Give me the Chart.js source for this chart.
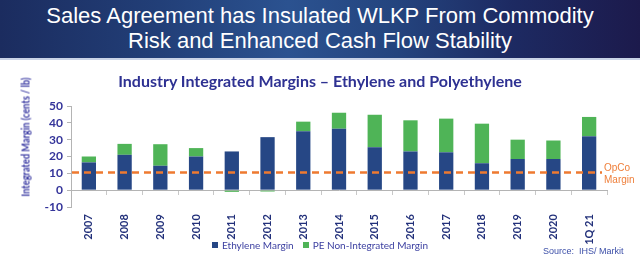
<!DOCTYPE html>
<html>
<head>
<meta charset="utf-8">
<script src="https://cdn.jsdelivr.net/npm/chart.js@4"></script>
<style>
  body { margin: 0; width: 640px; height: 265px; background: #fff; overflow: hidden; position: relative; }
  #header {
    position: absolute; left: 0; top: 0; width: 640px; height: 58px;
    background: linear-gradient(90deg, #1b2c5f 0%, #223f78 25%, #2b5290 45%, #24447e 62%, #1d2a62 80%, #1c1a4c 100%);
    border-bottom: 2px solid #c9d3e6;
    color: #fff; font-family: "Liberation Sans", Arial, sans-serif; font-size: 22px;
    text-align: center; line-height: 25px;
  }
  #header div { white-space: nowrap; }
  #chart { position: absolute; left: 0; top: 0; }
  .txt { position: absolute; white-space: nowrap; }
  #ctitle { left: 0; width: 640px; top: 71px; text-align: center; font-family: Lato, sans-serif; font-weight: bold; font-size: 16px; color: #2e3192; }
  #ytitle { left: 25px; top: 137px; transform: translate(-50%, -50%) rotate(-90deg) scale(0.84, 1); font-family: Lato, sans-serif; font-weight: bold; font-size: 11px; color: #3535a0; }
  #legend { left: 212px; top: 239px; font-family: Lato, sans-serif; font-size: 10px; color: #3b3fa0; }
  #legend span.sw { display: inline-block; width: 6px; height: 6px; margin-right: 4px; vertical-align: 1px; }
  #source { left: 543px; top: 246px; font-family: "Liberation Sans", Arial, sans-serif; font-size: 9px; color: #3c4fa8; }
  #opco { left: 604px; top: 162px; font-family: "Liberation Sans", Arial, sans-serif; font-size: 10px; line-height: 12px; color: #ef7f3a; }
</style>
</head>
<body>
<div id="header">
  <div style="padding-top:3px">Sales Agreement has Insulated WLKP From Commodity</div>
  <div>Risk and Enhanced Cash Flow Stability</div>
</div>
<canvas id="chart" width="640" height="265"></canvas>
<div class="txt" id="ctitle">Industry Integrated Margins – Ethylene and Polyethylene</div>
<div class="txt" id="ytitle">Integrated Margin (cents / lb)</div>
<div class="txt" id="legend"></div>
<div class="txt" id="source">Source:&nbsp; IHS/ Markit</div>
<div class="txt" id="opco">OpCo<br>Margin</div>
<script>
const categories = ['2007', '2008', '2009', '2010', '2011', '2012', '2013', '2014', '2015', '2016', '2017', '2018', '2019', '2020', '1Q 21'];
const ethyleneMargin = [16.5, 21, 14.5, 20, 23, 31.5, 35, 36.5, 25.5, 23, 22.5, 16, 18.5, 18.5, 32];
const peNonIntegratedMargin = [3.5, 6.5, 12.8, 5, -1, -0.8, 5.7, 9.5, 19.3, 18.5, 20, 23.5, 11.5, 11, 11.5];
const opcoMargin = 10.5;
const yMin = -10, yMax = 50, yStep = 10;

const seriesNames = ['Ethylene Margin', 'PE Non-Integrated Margin'];
const seriesColors = ['#264785', '#4fb457'];

// legend as plain text
document.getElementById('legend').innerHTML = seriesNames.map((n, i) =>
    `<span class="sw" style="background:${seriesColors[i]}"></span>${n}`).join('<span style="display:inline-block;width:9px"></span>');

const opcoLine = {
    id: 'opcoLine',
    afterDatasetsDraw(chart) {
        const ctx = chart.ctx;
        const y = chart.scales.y.getPixelForValue(opcoMargin);
        ctx.save();
        ctx.strokeStyle = '#ee7a30';
        ctx.lineWidth = 2.5;
        ctx.setLineDash([7, 5]);
        ctx.beginPath();
        ctx.moveTo(chart.chartArea.left + 1, y);
        ctx.lineTo(chart.chartArea.right - 5, y);
        ctx.stroke();
        ctx.restore();
    }
};

new Chart(document.getElementById('chart'), {
    type: 'bar',
    data: {
        labels: categories,
        datasets: [
            { label: seriesNames[0], data: ethyleneMargin, backgroundColor: seriesColors[0] },
            { label: seriesNames[1], data: peNonIntegratedMargin, backgroundColor: seriesColors[1] }
        ]
    },
    options: {
        responsive: false,
        animation: false,
        devicePixelRatio: 1,
        layout: { padding: { top: 106, right: 33, bottom: 58, left: 0 } },
        datasets: { bar: { categoryPercentage: 1, barPercentage: 0.4 } },
        plugins: { legend: { display: false }, title: { display: false }, tooltip: { enabled: false } },
        scales: {
            x: {
                stacked: true,
                position: { y: 0 },
                grid: { drawOnChartArea: false, tickLength: 4, color: '#c8c8c8', offset: true },
                border: { color: '#b4b4b4' },
                ticks: {
                    minRotation: 90, maxRotation: 90, padding: 20,
                    color: '#22307a', font: { family: 'Lato', weight: 'bold', size: 11 }
                }
            },
            y: {
                stacked: true,
                min: yMin, max: yMax,
                grid: { drawOnChartArea: false, tickLength: 4, color: '#b4b4b4' },
                border: { color: '#b4b4b4' },
                ticks: {
                    stepSize: yStep, padding: 4, autoSkip: false,
                    color: '#34349a', font: { family: 'Lato', weight: 'bold', size: 12 }
                },
                afterFit(scale) { scale.width = 71; }
            }
        }
    },
    plugins: [opcoLine]
});
</script>
</body>
</html>
